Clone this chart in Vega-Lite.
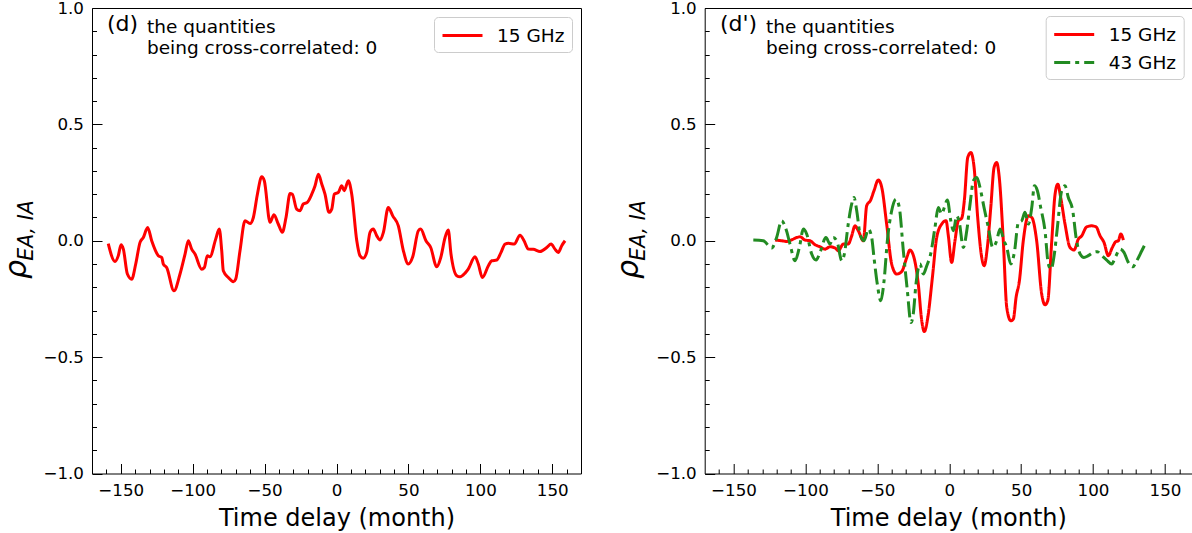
{
  "$schema": "https://vega.github.io/schema/vega-lite/v6.json",
  "padding": {"left": 1, "top": 0, "right": 0, "bottom": 0},
  "bounds": "flush",
  "spacing": 123.7,
  "config": {
    "font": "DejaVu Sans",
    "view": {"stroke": null},
    "axis": {"grid": false, "domain": false, "tickColor": "#000", "tickWidth": 1, "labelColor": "#000", "titleColor": "#000", "labelFont": "DejaVu Sans", "titleFont": "DejaVu Sans", "domainColor": "#000", "domainWidth": 1},
    "legend": {"symbolType": "M-2,0H2", "symbolSize": 400, "symbolStrokeWidth": 3, "labelFontSize": 18.5, "labelFont": "DejaVu Sans", "labelColor": "#000", "padding": 7, "fillColor": "#ffffff", "strokeColor": "#cccccc", "cornerRadius": 4, "offset": 9, "labelOffset": 23, "symbolOffset": 10, "rowPadding": 7, "orient": "top-right", "title": null}
  },
  "datasets": {
    "left": [
      {"x":-158.7,"y":-0.012,"band":"15 GHz"},{"x":-154,"y":-0.089,"band":"15 GHz"},{"x":-151.7,"y":-0.064,"band":"15 GHz"},{"x":-149.8,"y":-0.017,"band":"15 GHz"},{"x":-148.2,"y":-0.036,"band":"15 GHz"},{"x":-145.4,"y":-0.143,"band":"15 GHz"},{"x":-142.4,"y":-0.165,"band":"15 GHz"},{"x":-139.6,"y":-0.1,"band":"15 GHz"},{"x":-136.6,"y":-0.007,"band":"15 GHz"},{"x":-134.3,"y":0.014,"band":"15 GHz"},{"x":-131.3,"y":0.057,"band":"15 GHz"},{"x":-128.5,"y":0,"band":"15 GHz"},{"x":-123.9,"y":-0.064,"band":"15 GHz"},{"x":-121.5,"y":-0.072,"band":"15 GHz"},{"x":-120.4,"y":-0.1,"band":"15 GHz"},{"x":-118.1,"y":-0.115,"band":"15 GHz"},{"x":-113,"y":-0.215,"band":"15 GHz"},{"x":-108.8,"y":-0.143,"band":"15 GHz"},{"x":-105.3,"y":-0.057,"band":"15 GHz"},{"x":-103,"y":0,"band":"15 GHz"},{"x":-100.7,"y":-0.036,"band":"15 GHz"},{"x":-98.4,"y":-0.057,"band":"15 GHz"},{"x":-93.7,"y":-0.122,"band":"15 GHz"},{"x":-91.9,"y":-0.115,"band":"15 GHz"},{"x":-89.8,"y":-0.064,"band":"15 GHz"},{"x":-88,"y":-0.069,"band":"15 GHz"},{"x":-84,"y":0.007,"band":"15 GHz"},{"x":-81.5,"y":0.05,"band":"15 GHz"},{"x":-79.8,"y":-0.043,"band":"15 GHz"},{"x":-78.7,"y":-0.129,"band":"15 GHz"},{"x":-75.2,"y":-0.158,"band":"15 GHz"},{"x":-71.7,"y":-0.176,"band":"15 GHz"},{"x":-70.1,"y":-0.165,"band":"15 GHz"},{"x":-67.1,"y":-0.043,"band":"15 GHz"},{"x":-63.6,"y":0.086,"band":"15 GHz"},{"x":-60.1,"y":0.074,"band":"15 GHz"},{"x":-57.8,"y":0.1,"band":"15 GHz"},{"x":-55,"y":0.2,"band":"15 GHz"},{"x":-52,"y":0.275,"band":"15 GHz"},{"x":-50.2,"y":0.258,"band":"15 GHz"},{"x":-46.2,"y":0.079,"band":"15 GHz"},{"x":-43.5,"y":0.112,"band":"15 GHz"},{"x":-40.5,"y":0.072,"band":"15 GHz"},{"x":-37.7,"y":0.036,"band":"15 GHz"},{"x":-35.1,"y":0.1,"band":"15 GHz"},{"x":-32.3,"y":0.203,"band":"15 GHz"},{"x":-30.7,"y":0.2,"band":"15 GHz"},{"x":-27.7,"y":0.136,"band":"15 GHz"},{"x":-25.4,"y":0.129,"band":"15 GHz"},{"x":-23.1,"y":0.158,"band":"15 GHz"},{"x":-20.3,"y":0.165,"band":"15 GHz"},{"x":-17.2,"y":0.2,"band":"15 GHz"},{"x":-14.9,"y":0.236,"band":"15 GHz"},{"x":-12.6,"y":0.286,"band":"15 GHz"},{"x":-10.2,"y":0.243,"band":"15 GHz"},{"x":-8,"y":0.2,"band":"15 GHz"},{"x":-5.2,"y":0.122,"band":"15 GHz"},{"x":-3.3,"y":0.136,"band":"15 GHz"},{"x":-1.5,"y":0.2,"band":"15 GHz"},{"x":1.3,"y":0.208,"band":"15 GHz"},{"x":3.6,"y":0.236,"band":"15 GHz"},{"x":5.4,"y":0.215,"band":"15 GHz"},{"x":8.2,"y":0.258,"band":"15 GHz"},{"x":10.6,"y":0.2,"band":"15 GHz"},{"x":14.1,"y":0,"band":"15 GHz"},{"x":16.3,"y":-0.064,"band":"15 GHz"},{"x":18.6,"y":-0.075,"band":"15 GHz"},{"x":21,"y":-0.05,"band":"15 GHz"},{"x":23.3,"y":0.036,"band":"15 GHz"},{"x":25.6,"y":0.05,"band":"15 GHz"},{"x":28,"y":0.021,"band":"15 GHz"},{"x":30.3,"y":0.003,"band":"15 GHz"},{"x":32.6,"y":0.036,"band":"15 GHz"},{"x":36,"y":0.143,"band":"15 GHz"},{"x":39.1,"y":0.107,"band":"15 GHz"},{"x":43,"y":0.064,"band":"15 GHz"},{"x":46.5,"y":-0.043,"band":"15 GHz"},{"x":49.9,"y":-0.1,"band":"15 GHz"},{"x":53,"y":-0.069,"band":"15 GHz"},{"x":56.9,"y":0.043,"band":"15 GHz"},{"x":58.5,"y":0.05,"band":"15 GHz"},{"x":62.2,"y":0,"band":"15 GHz"},{"x":65.5,"y":-0.029,"band":"15 GHz"},{"x":69.7,"y":-0.112,"band":"15 GHz"},{"x":72.5,"y":-0.072,"band":"15 GHz"},{"x":75.5,"y":0.014,"band":"15 GHz"},{"x":77.7,"y":0.046,"band":"15 GHz"},{"x":79.6,"y":-0.057,"band":"15 GHz"},{"x":83.6,"y":-0.15,"band":"15 GHz"},{"x":85.9,"y":-0.155,"band":"15 GHz"},{"x":89.4,"y":-0.139,"band":"15 GHz"},{"x":91.6,"y":-0.122,"band":"15 GHz"},{"x":96.3,"y":-0.069,"band":"15 GHz"},{"x":98.6,"y":-0.1,"band":"15 GHz"},{"x":101.4,"y":-0.158,"band":"15 GHz"},{"x":105.6,"y":-0.107,"band":"15 GHz"},{"x":107.9,"y":-0.086,"band":"15 GHz"},{"x":111.4,"y":-0.083,"band":"15 GHz"},{"x":114.4,"y":-0.05,"band":"15 GHz"},{"x":117.2,"y":-0.014,"band":"15 GHz"},{"x":119.5,"y":-0.011,"band":"15 GHz"},{"x":123.6,"y":-0.014,"band":"15 GHz"},{"x":127.6,"y":0.024,"band":"15 GHz"},{"x":130.4,"y":0,"band":"15 GHz"},{"x":133.4,"y":-0.036,"band":"15 GHz"},{"x":136.8,"y":-0.037,"band":"15 GHz"},{"x":141.5,"y":-0.046,"band":"15 GHz"},{"x":146.2,"y":-0.029,"band":"15 GHz"},{"x":149.2,"y":-0.014,"band":"15 GHz"},{"x":151.9,"y":-0.036,"band":"15 GHz"},{"x":154.2,"y":-0.05,"band":"15 GHz"},{"x":156.6,"y":-0.021,"band":"15 GHz"},{"x":158.9,"y":0,"band":"15 GHz"}
    ],
    "right": [
      {"x":-121.1,"y":0.003,"band":"15 GHz"},{"x":-116.5,"y":0,"band":"15 GHz"},{"x":-113,"y":-0.003,"band":"15 GHz"},{"x":-109.5,"y":0.004,"band":"15 GHz"},{"x":-106,"y":0.014,"band":"15 GHz"},{"x":-103.7,"y":0.017,"band":"15 GHz"},{"x":-100.3,"y":0.003,"band":"15 GHz"},{"x":-96.8,"y":0,"band":"15 GHz"},{"x":-93.3,"y":-0.017,"band":"15 GHz"},{"x":-89.8,"y":-0.026,"band":"15 GHz"},{"x":-86.4,"y":-0.036,"band":"15 GHz"},{"x":-82.9,"y":-0.026,"band":"15 GHz"},{"x":-79.4,"y":-0.031,"band":"15 GHz"},{"x":-77.1,"y":-0.043,"band":"15 GHz"},{"x":-73.6,"y":-0.014,"band":"15 GHz"},{"x":-70.2,"y":-0.014,"band":"15 GHz"},{"x":-67.8,"y":0.021,"band":"15 GHz"},{"x":-65.5,"y":0.064,"band":"15 GHz"},{"x":-63.2,"y":0.043,"band":"15 GHz"},{"x":-59.7,"y":0,"band":"15 GHz"},{"x":-57.4,"y":0.15,"band":"15 GHz"},{"x":-54.6,"y":0.175,"band":"15 GHz"},{"x":-52.3,"y":0.215,"band":"15 GHz"},{"x":-49.3,"y":0.261,"band":"15 GHz"},{"x":-46.9,"y":0.229,"band":"15 GHz"},{"x":-43.5,"y":0.072,"band":"15 GHz"},{"x":-40,"y":-0.1,"band":"15 GHz"},{"x":-36.5,"y":-0.143,"band":"15 GHz"},{"x":-33,"y":-0.132,"band":"15 GHz"},{"x":-29.5,"y":-0.072,"band":"15 GHz"},{"x":-27.3,"y":-0.04,"band":"15 GHz"},{"x":-24.5,"y":-0.072,"band":"15 GHz"},{"x":-21.5,"y":-0.186,"band":"15 GHz"},{"x":-19.1,"y":-0.344,"band":"15 GHz"},{"x":-17.3,"y":-0.39,"band":"15 GHz"},{"x":-14.9,"y":-0.33,"band":"15 GHz"},{"x":-11.7,"y":-0.158,"band":"15 GHz"},{"x":-8.7,"y":0.014,"band":"15 GHz"},{"x":-5.2,"y":0.072,"band":"15 GHz"},{"x":-2.2,"y":0.086,"band":"15 GHz"},{"x":-0.6,"y":0.021,"band":"15 GHz"},{"x":1.7,"y":-0.093,"band":"15 GHz"},{"x":4,"y":0,"band":"15 GHz"},{"x":6.3,"y":0.086,"band":"15 GHz"},{"x":8.7,"y":0.097,"band":"15 GHz"},{"x":10.5,"y":0.172,"band":"15 GHz"},{"x":12.9,"y":0.358,"band":"15 GHz"},{"x":15,"y":0.379,"band":"15 GHz"},{"x":17.3,"y":0.315,"band":"15 GHz"},{"x":19.8,"y":0.1,"band":"15 GHz"},{"x":22.6,"y":-0.072,"band":"15 GHz"},{"x":24.3,"y":-0.107,"band":"15 GHz"},{"x":26.5,"y":-0.029,"band":"15 GHz"},{"x":28.9,"y":0.143,"band":"15 GHz"},{"x":31.2,"y":0.315,"band":"15 GHz"},{"x":33,"y":0.336,"band":"15 GHz"},{"x":34.8,"y":0.272,"band":"15 GHz"},{"x":37.6,"y":0,"band":"15 GHz"},{"x":40,"y":-0.286,"band":"15 GHz"},{"x":42.8,"y":-0.344,"band":"15 GHz"},{"x":44.6,"y":-0.336,"band":"15 GHz"},{"x":46.5,"y":-0.243,"band":"15 GHz"},{"x":48.8,"y":-0.172,"band":"15 GHz"},{"x":51.5,"y":0,"band":"15 GHz"},{"x":55,"y":0.107,"band":"15 GHz"},{"x":57.4,"y":0.1,"band":"15 GHz"},{"x":60.8,"y":0,"band":"15 GHz"},{"x":64.3,"y":-0.229,"band":"15 GHz"},{"x":66.6,"y":-0.275,"band":"15 GHz"},{"x":68.5,"y":-0.258,"band":"15 GHz"},{"x":71.3,"y":0,"band":"15 GHz"},{"x":73.6,"y":0.2,"band":"15 GHz"},{"x":75.5,"y":0.243,"band":"15 GHz"},{"x":77.5,"y":0.186,"band":"15 GHz"},{"x":80.5,"y":0.072,"band":"15 GHz"},{"x":84,"y":-0.029,"band":"15 GHz"},{"x":86.8,"y":-0.04,"band":"15 GHz"},{"x":89.8,"y":0.007,"band":"15 GHz"},{"x":92.1,"y":0.021,"band":"15 GHz"},{"x":95.6,"y":0.06,"band":"15 GHz"},{"x":99.1,"y":0.064,"band":"15 GHz"},{"x":102.1,"y":0.06,"band":"15 GHz"},{"x":104.9,"y":0.021,"band":"15 GHz"},{"x":107.6,"y":-0.007,"band":"15 GHz"},{"x":110.6,"y":-0.064,"band":"15 GHz"},{"x":113.4,"y":-0.029,"band":"15 GHz"},{"x":115.8,"y":-0.004,"band":"15 GHz"},{"x":117.6,"y":0,"band":"15 GHz"},{"x":119.3,"y":0.029,"band":"15 GHz"},{"x":121.1,"y":0.003,"band":"15 GHz"},
      {"x":-136.2,"y":0.003,"band":"43 GHz"},{"x":-129.3,"y":0,"band":"43 GHz"},{"x":-123.4,"y":-0.031,"band":"43 GHz"},{"x":-120,"y":0.014,"band":"43 GHz"},{"x":-116.5,"y":0.086,"band":"43 GHz"},{"x":-113.5,"y":0.05,"band":"43 GHz"},{"x":-110.7,"y":-0.014,"band":"43 GHz"},{"x":-107.2,"y":-0.086,"band":"43 GHz"},{"x":-104.2,"y":-0.029,"band":"43 GHz"},{"x":-101.4,"y":0.05,"band":"43 GHz"},{"x":-99.1,"y":0.029,"band":"43 GHz"},{"x":-95.6,"y":-0.057,"band":"43 GHz"},{"x":-92.6,"y":-0.083,"band":"43 GHz"},{"x":-89.8,"y":-0.05,"band":"43 GHz"},{"x":-85.7,"y":0.014,"band":"43 GHz"},{"x":-82.9,"y":-0.014,"band":"43 GHz"},{"x":-80.6,"y":0.014,"band":"43 GHz"},{"x":-77.8,"y":-0.007,"band":"43 GHz"},{"x":-74.7,"y":-0.086,"band":"43 GHz"},{"x":-72.9,"y":-0.057,"band":"43 GHz"},{"x":-70.2,"y":0.072,"band":"43 GHz"},{"x":-67.8,"y":0.158,"band":"43 GHz"},{"x":-66.2,"y":0.186,"band":"43 GHz"},{"x":-64.3,"y":0.129,"band":"43 GHz"},{"x":-62,"y":0.029,"band":"43 GHz"},{"x":-59.2,"y":0,"band":"43 GHz"},{"x":-56.2,"y":0.05,"band":"43 GHz"},{"x":-53.9,"y":0.014,"band":"43 GHz"},{"x":-52.3,"y":-0.072,"band":"43 GHz"},{"x":-50,"y":-0.186,"band":"43 GHz"},{"x":-47.6,"y":-0.258,"band":"43 GHz"},{"x":-45.3,"y":-0.172,"band":"43 GHz"},{"x":-43,"y":0,"band":"43 GHz"},{"x":-40,"y":0.129,"band":"43 GHz"},{"x":-37,"y":0.179,"band":"43 GHz"},{"x":-34.7,"y":0.143,"band":"43 GHz"},{"x":-31.9,"y":-0.043,"band":"43 GHz"},{"x":-29.1,"y":-0.215,"band":"43 GHz"},{"x":-26.6,"y":-0.351,"band":"43 GHz"},{"x":-25,"y":-0.315,"band":"43 GHz"},{"x":-23.1,"y":-0.186,"band":"43 GHz"},{"x":-20.3,"y":-0.1,"band":"43 GHz"},{"x":-18,"y":-0.143,"band":"43 GHz"},{"x":-15.6,"y":-0.107,"band":"43 GHz"},{"x":-12.9,"y":-0.057,"band":"43 GHz"},{"x":-9.9,"y":0.057,"band":"43 GHz"},{"x":-7.6,"y":0.143,"band":"43 GHz"},{"x":-5.2,"y":0.115,"band":"43 GHz"},{"x":-3.4,"y":0.143,"band":"43 GHz"},{"x":-1.3,"y":0.175,"band":"43 GHz"},{"x":1.1,"y":0.086,"band":"43 GHz"},{"x":2.9,"y":0.043,"band":"43 GHz"},{"x":5.2,"y":0.107,"band":"43 GHz"},{"x":7,"y":0.079,"band":"43 GHz"},{"x":9.8,"y":-0.029,"band":"43 GHz"},{"x":12.2,"y":0.043,"band":"43 GHz"},{"x":14.5,"y":0.158,"band":"43 GHz"},{"x":16.8,"y":0.258,"band":"43 GHz"},{"x":19.2,"y":0.272,"band":"43 GHz"},{"x":21.4,"y":0.229,"band":"43 GHz"},{"x":24.2,"y":0.143,"band":"43 GHz"},{"x":27.2,"y":0.057,"band":"43 GHz"},{"x":30.3,"y":-0.029,"band":"43 GHz"},{"x":33,"y":0,"band":"43 GHz"},{"x":35.3,"y":0.05,"band":"43 GHz"},{"x":38.1,"y":0,"band":"43 GHz"},{"x":40,"y":-0.029,"band":"43 GHz"},{"x":42.8,"y":-0.1,"band":"43 GHz"},{"x":45.3,"y":-0.05,"band":"43 GHz"},{"x":48.1,"y":0.079,"band":"43 GHz"},{"x":50.4,"y":0.086,"band":"43 GHz"},{"x":52.7,"y":0.122,"band":"43 GHz"},{"x":55,"y":0.072,"band":"43 GHz"},{"x":57.4,"y":0.143,"band":"43 GHz"},{"x":59.2,"y":0.236,"band":"43 GHz"},{"x":61.3,"y":0.215,"band":"43 GHz"},{"x":63.6,"y":0.143,"band":"43 GHz"},{"x":66.6,"y":0.043,"band":"43 GHz"},{"x":68.9,"y":-0.1,"band":"43 GHz"},{"x":70.8,"y":-0.122,"band":"43 GHz"},{"x":73.1,"y":-0.057,"band":"43 GHz"},{"x":75.2,"y":0.057,"band":"43 GHz"},{"x":78.2,"y":0.215,"band":"43 GHz"},{"x":80.5,"y":0.236,"band":"43 GHz"},{"x":82.8,"y":0.186,"band":"43 GHz"},{"x":85.9,"y":0.129,"band":"43 GHz"},{"x":88.2,"y":0.014,"band":"43 GHz"},{"x":91,"y":-0.057,"band":"43 GHz"},{"x":93.7,"y":-0.072,"band":"43 GHz"},{"x":96.7,"y":-0.064,"band":"43 GHz"},{"x":100.2,"y":-0.05,"band":"43 GHz"},{"x":103,"y":-0.047,"band":"43 GHz"},{"x":106,"y":-0.064,"band":"43 GHz"},{"x":109.5,"y":-0.083,"band":"43 GHz"},{"x":113,"y":-0.1,"band":"43 GHz"},{"x":116,"y":-0.064,"band":"43 GHz"},{"x":118.8,"y":-0.036,"band":"43 GHz"},{"x":121.5,"y":-0.05,"band":"43 GHz"},{"x":124.5,"y":-0.093,"band":"43 GHz"},{"x":127.6,"y":-0.112,"band":"43 GHz"},{"x":130.4,"y":-0.086,"band":"43 GHz"},{"x":133.9,"y":-0.043,"band":"43 GHz"},{"x":136.8,"y":-0.007,"band":"43 GHz"}
    ]
  },
  "resolve": {"scale": {"color": "independent", "strokeDash": "independent"}, "legend": {"color": "independent", "strokeDash": "independent"}},
  "hconcat": [
    {
      "width": 489,
      "height": 465.5,
      "resolve": {"axis": {"x": "independent", "y": "independent"}},
      "layer": [
        {
          "data": {"name": "left"},
          "mark": {"type": "line", "interpolate": "monotone", "strokeWidth": 3},
          "encoding": {
            "x": {"field": "x", "type": "quantitative", "scale": {"domain": [-170, 170], "nice": false, "zero": false},
              "axis": {"orient": "bottom", "values": [-150, -100, -50, 0, 50, 100, 150], "tickSize": -10, "labelPadding": 18.5, "labelFontSize": 16.7, "labelFlush": false, "title": "Time delay (month)", "titleFontSize": 24, "titleFontWeight": "normal", "titlePadding": 8, "domain": true}},
            "y": {"field": "y", "type": "quantitative", "scale": {"domain": [-1, 1], "nice": false, "zero": false},
              "axis": {"orient": "left", "values": [-1, -0.5, 0, 0.5, 1], "format": ".1f", "tickSize": -10, "labelPadding": 18.5, "labelFontSize": 16.7, "labelFlush": false, "title": "ρ", "titleFontSize": 30, "titleFontStyle": "italic", "titleFontWeight": "normal", "titleX": -67, "titleY": 261, "titleAngle": 270, "titleAlign": "center", "titleBaseline": "alphabetic", "domain": true}},
            "color": {"field": "band", "type": "nominal", "scale": {"domain": ["15 GHz"], "range": ["#ff0000"]}, "legend": {"title": null, "orient": "top-right"}}
          }
        },
        {
          "data": {"values": [{}]},
          "mark": {"type": "text", "align": "left", "baseline": "alphabetic", "fontSize": 22, "color": "#000"},
          "encoding": {
            "x": {"datum": -159.6, "type": "quantitative", "axis": {"orient": "bottom", "values": [-160, -140, -130, -120, -110, -90, -80, -70, -60, -40, -30, -20, -10, 10, 20, 30, 40, 60, 70, 80, 90, 110, 120, 130, 140, 160], "tickSize": -4.5, "labels": false, "domain": false, "title": null}},
            "y": {"datum": 0.902, "type": "quantitative", "axis": {"orient": "left", "values": [-0.9, -0.8, -0.7, -0.6, -0.4, -0.3, -0.2, -0.1, 0.1, 0.2, 0.3, 0.4, 0.6, 0.7, 0.8, 0.9], "tickSize": -4.5, "labels": false, "domain": false, "title": "EA, IA", "titleFontSize": 20.5, "titleFontStyle": "italic", "titleFontWeight": "normal", "titleX": -60, "titleY": 222, "titleAngle": 270, "titleAlign": "center", "titleBaseline": "alphabetic"}},
            "text": {"value": "(d)"}
          }
        },
        {
          "data": {"values": [{}]},
          "mark": {"type": "text", "align": "left", "baseline": "top", "fontSize": 18.5, "lineBreak": "\n", "lineHeight": 21, "color": "#000"},
          "encoding": {
            "x": {"datum": -131.8, "type": "quantitative", "axis": {"orient": "top", "domain": true, "ticks": false, "labels": false, "title": null}},
            "y": {"datum": 0.956, "type": "quantitative", "axis": {"orient": "right", "domain": true, "ticks": false, "labels": false, "title": null}},
            "text": {"value": "the quantities\nbeing cross-correlated: 0"}
          }
        }
      ]
    },
    {
      "width": 487.3,
      "height": 465.5,
      "resolve": {"axis": {"x": "independent", "y": "independent"}},
      "layer": [
        {
          "data": {"name": "right"},
          "mark": {"type": "line", "interpolate": "monotone", "strokeWidth": 3, "strokeCap": "butt"},
          "encoding": {
            "x": {"field": "x", "type": "quantitative", "scale": {"domain": [-170, 168.8], "nice": false, "zero": false},
              "axis": {"orient": "bottom", "values": [-150, -100, -50, 0, 50, 100, 150], "tickSize": -10, "labelPadding": 18.5, "labelFontSize": 16.7, "labelFlush": false, "title": "Time delay (month)", "titleFontSize": 24, "titleFontWeight": "normal", "titlePadding": 8, "domain": true}},
            "y": {"field": "y", "type": "quantitative", "scale": {"domain": [-1, 1], "nice": false, "zero": false},
              "axis": {"orient": "left", "values": [-1, -0.5, 0, 0.5, 1], "format": ".1f", "tickSize": -10, "labelPadding": 18.5, "labelFontSize": 16.7, "labelFlush": false, "title": "ρ", "titleFontSize": 30, "titleFontStyle": "italic", "titleFontWeight": "normal", "titleX": -67, "titleY": 261, "titleAngle": 270, "titleAlign": "center", "titleBaseline": "alphabetic", "domain": true}},
            "color": {"field": "band", "type": "nominal", "scale": {"domain": ["15 GHz", "43 GHz"], "range": ["#ff0000", "#228b22"]}, "legend": {"title": null, "orient": "top-right", "offset": 8}},
            "strokeDash": {"field": "band", "type": "nominal", "scale": {"domain": ["15 GHz", "43 GHz"], "range": [[1, 0], [16, 5, 4, 5]]}, "legend": {"title": null, "orient": "top-right", "offset": 8}}
          }
        },
        {
          "data": {"values": [{}]},
          "mark": {"type": "text", "align": "left", "baseline": "alphabetic", "fontSize": 22, "color": "#000"},
          "encoding": {
            "x": {"datum": -159.4, "type": "quantitative", "axis": {"orient": "bottom", "values": [-160, -140, -130, -120, -110, -90, -80, -70, -60, -40, -30, -20, -10, 10, 20, 30, 40, 60, 70, 80, 90, 110, 120, 130, 140, 160], "tickSize": -4.5, "labels": false, "domain": false, "title": null}},
            "y": {"datum": 0.902, "type": "quantitative", "axis": {"orient": "left", "values": [-0.9, -0.8, -0.7, -0.6, -0.4, -0.3, -0.2, -0.1, 0.1, 0.2, 0.3, 0.4, 0.6, 0.7, 0.8, 0.9], "tickSize": -4.5, "labels": false, "domain": false, "title": "EA, IA", "titleFontSize": 20.5, "titleFontStyle": "italic", "titleFontWeight": "normal", "titleX": -60, "titleY": 222, "titleAngle": 270, "titleAlign": "center", "titleBaseline": "alphabetic"}},
            "text": {"value": "(d')"}
          }
        },
        {
          "data": {"values": [{}]},
          "mark": {"type": "text", "align": "left", "baseline": "top", "fontSize": 18.5, "lineBreak": "\n", "lineHeight": 21, "color": "#000"},
          "encoding": {
            "x": {"datum": -127.4, "type": "quantitative", "axis": {"orient": "top", "domain": true, "ticks": false, "labels": false, "title": null}},
            "y": {"datum": 0.956, "type": "quantitative", "axis": null},
            "text": {"value": "the quantities\nbeing cross-correlated: 0"}
          }
        }
      ]
    }
  ]
}
